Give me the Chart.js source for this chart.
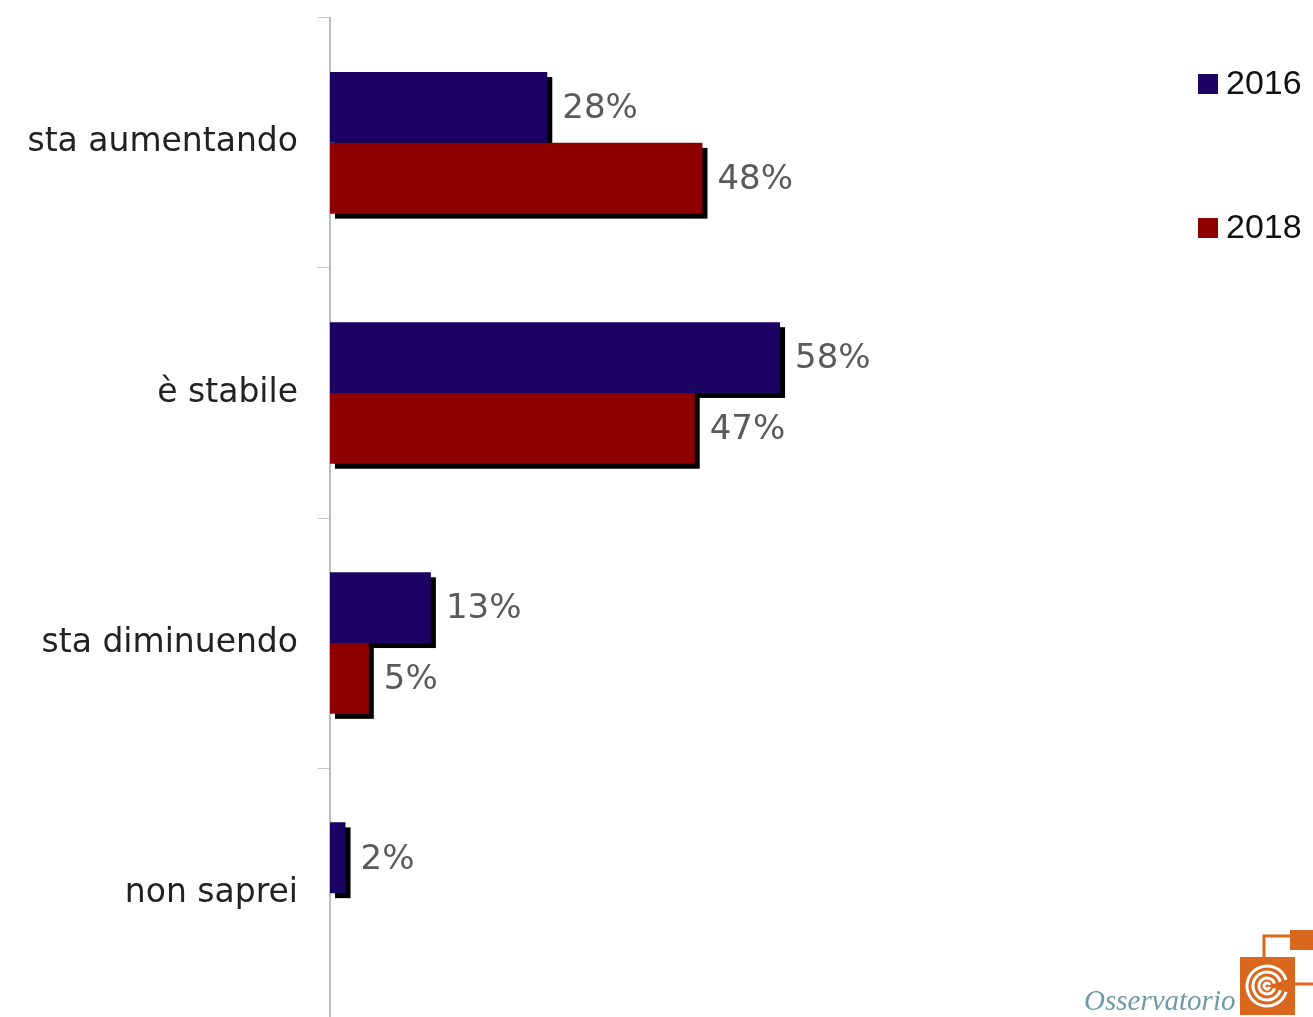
<!DOCTYPE html>
<html>
<head>
<meta charset="utf-8">
<script src="https://cdn.jsdelivr.net/npm/chart.js@4"></script>
<style>
  html, body { margin: 0; padding: 0; background: #fff; overflow: hidden; }
  #wrap { position: relative; width: 1313px; height: 1080px; margin-top: -22px; }
</style>
</head>
<body>
<div id="wrap"><canvas id="plot"></canvas></div>
<script>
const categories = ['sta aumentando', 'è stabile', 'sta diminuendo', 'non saprei'];
const years = ['2016', '2018'];
const values2016 = [28, 58, 13, 2];
const values2018 = [48, 47, 5, 0];
const colors = ['#1c0363', '#8e0000'];

// black drop shadow behind every bar
const shadowPlugin = {
    id: 'shadow',
    beforeDatasetsDraw(chart) {
        const ctx = chart.ctx;
        ctx.save();
        ctx.fillStyle = '#000';
        chart.data.datasets.forEach((ds, i) => {
            chart.getDatasetMeta(i).data.forEach((bar, j) => {
                if (!ds.data[j]) return;
                const p = bar.getProps(['x', 'y', 'base', 'height'], true);
                ctx.fillRect(p.base + 5, p.y - p.height / 2 + 5, p.x - p.base, p.height);
            });
        });
        ctx.restore();
    }
};

// percentage labels, legend and logo
const labelPlugin = {
    id: 'labels',
    afterDatasetsDraw(chart) {
        const ctx = chart.ctx;
        ctx.save();
        ctx.font = '34px "DejaVu Sans"';
        ctx.fillStyle = '#5a5a5a';
        ctx.textBaseline = 'middle';
        chart.data.datasets.forEach((ds, i) => {
            chart.getDatasetMeta(i).data.forEach((bar, j) => {
                if (!ds.data[j]) return;
                ctx.fillText(ds.data[j] + '%', bar.x + 15, bar.y + 2);
            });
        });

        // legend (canvas is shifted up by 22px)
        const ly = [84 + 22, 228 + 22];
        ctx.font = '34px "Liberation Sans"';
        chart.data.datasets.forEach((ds, i) => {
            ctx.fillStyle = ds.backgroundColor;
            ctx.fillRect(1198, ly[i] - 10, 20, 20);
            ctx.fillStyle = '#111';
            ctx.fillText(ds.label, 1226, ly[i] + 1);
        });

        // logo
        ctx.font = 'italic 29px "Liberation Serif"';
        ctx.fillStyle = '#7099a8';
        ctx.textBaseline = 'alphabetic';
        ctx.fillText('Osservatorio', 1084, 1010 + 22);
        ctx.strokeStyle = '#d9681e';
        ctx.lineWidth = 3;
        ctx.strokeRect(1264, 936 + 22, 52, 48);
        ctx.fillStyle = '#d9681e';
        ctx.fillRect(1290, 930 + 22, 23, 20);
        ctx.fillRect(1240, 957 + 22, 55, 58);
        ctx.strokeStyle = '#fff';
        ctx.lineWidth = 3;
        [20, 14, 8, 3].forEach(r => {
            ctx.beginPath();
            ctx.arc(1267, 986 + 22, r, 0.3, Math.PI * 1.9);
            ctx.stroke();
        });
        ctx.restore();
    }
};

const data = {
    labels: categories,
    datasets: [
        { label: years[0], data: values2016, backgroundColor: colors[0] },
        { label: years[1], data: values2018, backgroundColor: colors[1] }
    ]
};

const config = {
    type: 'bar',
    data: data,
    options: {
        indexAxis: 'y',
        responsive: true,
        maintainAspectRatio: false,
        animation: false,
        categoryPercentage: 0.566,
        barPercentage: 1,
        layout: { padding: { top: 15, right: 207, bottom: 9, left: 0 } },
        plugins: { legend: { display: false }, tooltip: { enabled: false } },
        scales: {
            x: { display: false, min: 0, max: 100 },
            y: {
                afterFit(scale) { scale.width = 330; },
                border: { display: true, color: '#bdbdbd', width: 2 },
                grid: { drawOnChartArea: false, drawTicks: true, tickLength: 12, color: '#c8c8c8', offset: true },
                ticks: { color: '#222', padding: 20, font: { family: 'DejaVu Sans', size: 33 } }
            }
        }
    },
    plugins: [shadowPlugin, labelPlugin]
};

let ctx = document.getElementById('plot').getContext('2d');
let chart = new Chart(ctx, config);
</script>
</body>
</html>
